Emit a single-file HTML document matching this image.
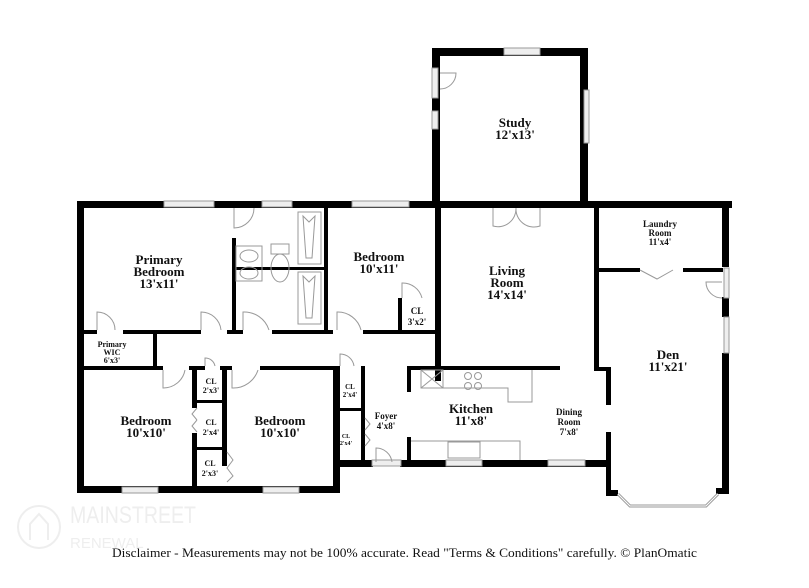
<!DOCTYPE html>
<html><head><meta charset="utf-8"><style>html,body{margin:0;padding:0;background:#fff}svg{display:block}</style></head>
<body>
<svg width="809" height="588" viewBox="0 0 809 588" xmlns="http://www.w3.org/2000/svg" font-family="Liberation Serif, serif">
<g fill="#000">
<rect x="432" y="48" width="156" height="8"/>
<rect x="432" y="48" width="8" height="160"/>
<rect x="580" y="48" width="8" height="160"/>
<rect x="77" y="201" width="655" height="7"/>
<rect x="77" y="201" width="7" height="292"/>
<rect x="77" y="486" width="263" height="7"/>
<rect x="333" y="367" width="7" height="126"/>
<rect x="722" y="201" width="7" height="66"/>
<rect x="722" y="297" width="7" height="20"/>
<rect x="722" y="353" width="7" height="139"/>
<rect x="594" y="201" width="5" height="170"/>
<rect x="594" y="367" width="17" height="4"/>
<rect x="606" y="367" width="5" height="38"/>
<rect x="606" y="432" width="5" height="64"/>
<rect x="606" y="490" width="12" height="6"/>
<rect x="716" y="488" width="13" height="6"/>
<rect x="599" y="268" width="41" height="4"/>
<rect x="683" y="268" width="40" height="4"/>
<rect x="435" y="201" width="6" height="180"/>
<rect x="407" y="366" width="153" height="4"/>
<rect x="407" y="366" width="4" height="26"/>
<rect x="407" y="437" width="4" height="28"/>
<rect x="400" y="460" width="211" height="7"/>
<rect x="333" y="460" width="40" height="7"/>
<rect x="84" y="330" width="13" height="4"/>
<rect x="123" y="330" width="78" height="4"/>
<rect x="227" y="330" width="16" height="4"/>
<rect x="272" y="330" width="61" height="4"/>
<rect x="363" y="330" width="74" height="4"/>
<rect x="232" y="238" width="4" height="96"/>
<rect x="324" y="201" width="4" height="133"/>
<rect x="232" y="267" width="96" height="3"/>
<rect x="398" y="298" width="4" height="36"/>
<rect x="153" y="330" width="4" height="40"/>
<rect x="84" y="366" width="79" height="4"/>
<rect x="189" y="366" width="16" height="4"/>
<rect x="220" y="366" width="12" height="4"/>
<rect x="260" y="366" width="80" height="4"/>
<rect x="192" y="366" width="5" height="42"/>
<rect x="192" y="433" width="5" height="60"/>
<rect x="222" y="366" width="5" height="100"/>
<rect x="192" y="400" width="32" height="3"/>
<rect x="192" y="447" width="32" height="3"/>
<rect x="361" y="366" width="4" height="96"/>
<rect x="337" y="408" width="26" height="3"/>
</g>
<g fill="#eee" stroke="#999" stroke-width="1">
<rect x="164" y="201" width="50" height="6"/><rect x="262" y="201" width="30" height="6"/>
<rect x="352" y="201" width="57" height="6"/><rect x="504" y="48" width="36" height="7"/>
<rect x="584" y="90" width="5" height="53"/><rect x="432" y="111" width="6" height="18"/>
<rect x="432" y="68" width="6" height="30"/><rect x="724" y="317" width="5" height="36"/>
<rect x="724" y="268" width="5" height="30"/>
<rect x="122" y="487" width="36" height="6"/><rect x="263" y="487" width="36" height="6"/>
<rect x="446" y="460" width="36" height="6"/><rect x="548" y="460" width="37" height="6"/>
<rect x="372" y="460" width="29" height="6"/>
</g>
<path d="M618,494 L630,506 L706,506 L718,494" fill="none" stroke="#999" stroke-width="3"/>
<path d="M618,494 L630,506 L706,506 L718,494" fill="none" stroke="#fff" stroke-width="1"/>
<g fill="none" stroke="#999" stroke-width="1">
<path d="M97,330 V312 A18,18 0 0 1 115,330"/><path d="M201,330 V312 A20,20 0 0 1 221,330"/>
<path d="M243,330 V312 A26,26 0 0 1 269,330"/><path d="M337,330 V312 A24,24 0 0 1 361,330"/>
<path d="M402,298 V283 A20,20 0 0 1 422,298"/>
<path d="M163,370 V388 A22,22 0 0 0 185,370"/><path d="M232,370 V388 A26,26 0 0 0 258,370"/>
<path d="M205,366 V358 A10,10 0 0 1 215,366"/><path d="M340,366 V354 A14,14 0 0 1 354,366"/>
<path d="M234,208 V228 A20,20 0 0 0 254,208"/>
<path d="M440,73 H456 A16,16 0 0 1 440,89"/>
<path d="M722,298 A16,16 0 0 1 706,282 H722"/>
<path d="M376,462 V448 A16,16 0 0 1 392,462"/>
<path d="M493,208 V226 A18,18 0 0 0 516,208"/><path d="M540,208 V226 A18,18 0 0 1 516,208"/>
<path d="M640,270 L657,279 L673,270"/>
<path d="M197,408 L192,414 L197,420 M197,420 L192,426 L197,432"/>
<path d="M227,452 L233,460 L227,468 L233,476 L227,482"/>
<path d="M365,418 L370,424 L365,430 M365,434 L370,440 L365,446"/>
<rect x="298" y="212" width="23" height="52"/><rect x="298" y="272" width="23" height="52"/>
<path d="M303,216 L309,222 L315,216 L312,258 L306,258 Z M303,276 L309,282 L315,276 L312,318 L306,318 Z"/>
<rect x="236" y="246" width="26" height="35"/>
<ellipse cx="249" cy="256" rx="9" ry="6"/><ellipse cx="249" cy="273" rx="9" ry="6"/>
<rect x="271" y="244" width="18" height="10"/><ellipse cx="280" cy="268" rx="9" ry="14"/>
<rect x="421" y="370" width="22" height="18"/><path d="M421,370 L443,388 M443,370 L421,388"/>
<path d="M443,370 V388 H508 V402 H532 V370"/>
<circle cx="468" cy="376" r="3.5"/><circle cx="478" cy="376" r="3.5"/><circle cx="468" cy="386" r="3.5"/><circle cx="478" cy="386" r="3.5"/>
<path d="M411,441 H520 V460"/><rect x="448" y="442" width="32" height="16"/>
</g>
<g font-weight="bold" text-anchor="middle" fill="#111">
<g font-size="13"><text x="515" y="127">Study</text><text x="515" y="139">12'x13'</text>
<text x="159" y="264">Primary</text><text x="159" y="276">Bedroom</text><text x="159" y="288">13'x11'</text>
<text x="379" y="261">Bedroom</text><text x="379" y="273">10'x11'</text>
<text x="507" y="275">Living</text><text x="507" y="287">Room</text><text x="507" y="299">14'x14'</text>
<text x="668" y="359">Den</text><text x="668" y="371">11'x21'</text>
<text x="471" y="413">Kitchen</text><text x="471" y="425">11'x8'</text>
<text x="146" y="425">Bedroom</text><text x="146" y="437">10'x10'</text>
<text x="280" y="425">Bedroom</text><text x="280" y="437">10'x10'</text></g>
<g font-size="9"><text x="660" y="227">Laundry</text><text x="660" y="236">Room</text><text x="660" y="245">11'x4'</text>
<text x="569" y="415">Dining</text><text x="569" y="425">Room</text><text x="569" y="435">7'x8'</text>
<text x="386" y="419">Foyer</text><text x="386" y="429">4'x8'</text>
<text x="417" y="314">CL</text><text x="417" y="325">3'x2'</text>
<text x="112" y="347" font-size="8">Primary</text><text x="112" y="355" font-size="8">WIC</text><text x="112" y="363" font-size="8">6'x3'</text>
<text x="211" y="384" font-size="8">CL</text><text x="211" y="393" font-size="8">2'x3'</text>
<text x="211" y="425" font-size="8">CL</text><text x="211" y="435" font-size="8">2'x4'</text>
<text x="210" y="466" font-size="8">CL</text><text x="210" y="476" font-size="8">2'x3'</text>
<text x="350" y="389" font-size="7">CL</text><text x="350" y="397" font-size="7">2'x4'</text>
<text x="346" y="438" font-size="6">CL</text><text x="346" y="445" font-size="6">2'x4'</text></g>
</g>
<g fill="none" stroke="#eee" stroke-width="2"><circle cx="39" cy="527" r="21"/><path d="M30,540 V524 L39,514 L48,524 V540"/></g>
<text x="70" y="523" font-family="Liberation Sans, sans-serif" font-size="24" fill="#eee" textLength="126" lengthAdjust="spacingAndGlyphs">MAINSTREET</text>
<text x="70" y="548" font-family="Liberation Sans, sans-serif" font-size="15" fill="#eee">RENEWAL</text>
<text x="112" y="557" font-size="13" fill="#111" textLength="585" lengthAdjust="spacingAndGlyphs">Disclaimer - Measurements may not be 100% accurate. Read "Terms &amp; Conditions" carefully. © PlanOmatic</text>
</svg>
</body></html>
